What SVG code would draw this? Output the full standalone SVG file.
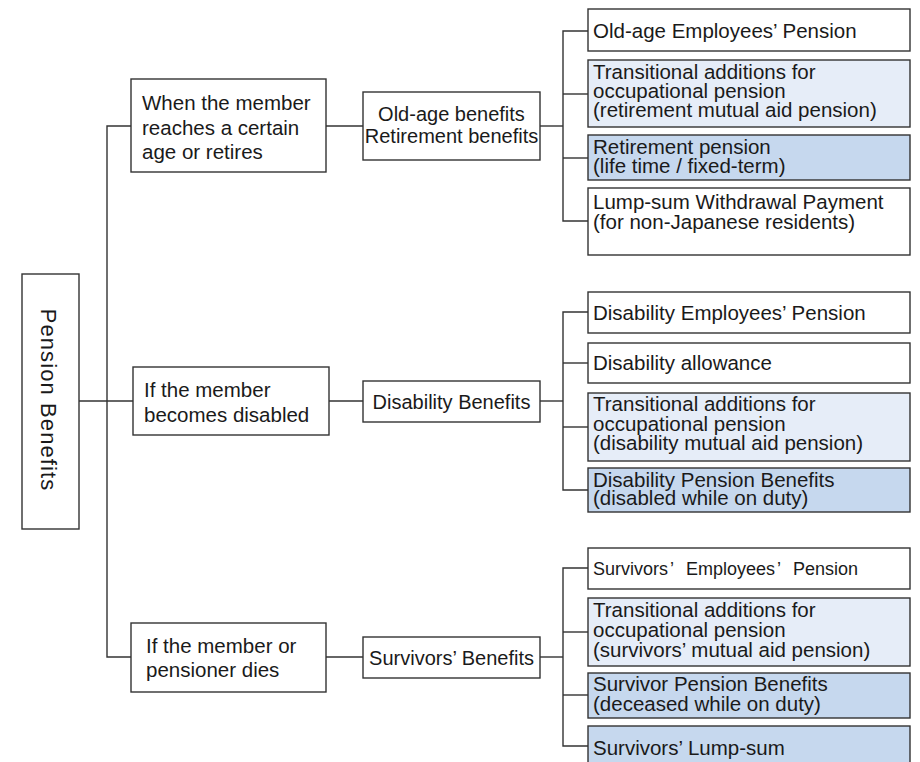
<svg xmlns="http://www.w3.org/2000/svg" width="920" height="762" viewBox="0 0 920 762">
  <style>
    .box { fill: #ffffff; stroke: #333333; stroke-width: 1.4; }
    .light { fill: #E6EDF8; }
    .dark { fill: #C6D8EE; }
    .t { font-family: "Liberation Sans", Arial, sans-serif; font-size: 20.5px; fill: #1a1a1a; }
    .m { font-family: "Liberation Sans", Arial, sans-serif; font-size: 20px; fill: #1a1a1a; text-anchor: middle; }
    .conn { fill: none; stroke: #333333; stroke-width: 1.4; }
  </style>
  <rect width="920" height="762" fill="#ffffff"/>

  <!-- connectors -->
  <g id="connectors" class="conn">
    <!-- root to cases -->
    <path d="M79 401 H133"/>
    <path d="M131 126 H107 V657 H131"/>
    <!-- old-age branch -->
    <path d="M326 126 H363"/>
    <path d="M540 126 H563"/>
    <path d="M588 31 H563 V221 H588"/>
    <path d="M563 94 H588"/>
    <path d="M563 158 H588"/>
    <!-- disability branch -->
    <path d="M329 401 H363"/>
    <path d="M540 401 H563"/>
    <path d="M588 312 H563 V490 H588"/>
    <path d="M563 363 H588"/>
    <path d="M563 427 H588"/>
    <!-- survivors branch -->
    <path d="M326 657 H363"/>
    <path d="M540 657 H563"/>
    <path d="M588 568 H563 V746 H588"/>
    <path d="M563 632 H588"/>
    <path d="M563 695 H588"/>
  </g>

  <!-- root -->
  <g id="pension-benefits">
    <rect class="box" x="22" y="274" width="57" height="255"/>
    <text class="t" style="font-size:22px; letter-spacing:1.1px" text-anchor="middle" transform="translate(41,400) rotate(90)">Pension Benefits</text>
  </g>

  <!-- cases -->
  <g id="case-retire">
    <rect class="box" x="131" y="79" width="195" height="93"/>
    <text class="t" x="142" y="110">When the member</text>
    <text class="t" x="142" y="134.5">reaches a certain</text>
    <text class="t" x="142" y="159">age or retires</text>
  </g>
  <g id="case-disabled">
    <rect class="box" x="133" y="367" width="196" height="68"/>
    <text class="t" x="144" y="397">If the member</text>
    <text class="t" x="144" y="422">becomes disabled</text>
  </g>
  <g id="case-dies">
    <rect class="box" x="131" y="623" width="195" height="69"/>
    <text class="t" x="146" y="653">If the member or</text>
    <text class="t" x="146" y="677">pensioner dies</text>
  </g>

  <!-- benefit categories -->
  <g id="old-age-benefits">
    <rect class="box" x="363" y="92" width="177" height="68"/>
    <text class="m" x="451.5" y="121">Old-age benefits</text>
    <text class="m" x="451.5" y="143">Retirement benefits</text>
  </g>
  <g id="disability-benefits">
    <rect class="box" x="363" y="381" width="177" height="41"/>
    <text class="m" x="451.5" y="408.5">Disability Benefits</text>
  </g>
  <g id="survivors-benefits">
    <rect class="box" x="363" y="637" width="177" height="41"/>
    <text class="m" x="451.5" y="665">Survivors’ Benefits</text>
  </g>

  <!-- old-age items -->
  <g id="old-age-employees-pension">
    <rect class="box" x="588" y="9" width="322" height="42"/>
    <text class="t" x="593" y="38">Old-age Employees’ Pension</text>
  </g>
  <g id="retirement-transitional">
    <rect class="box light" x="588" y="60" width="322" height="67"/>
    <text class="t" x="593" y="79">Transitional additions for</text>
    <text class="t" x="593" y="98">occupational pension</text>
    <text class="t" x="593" y="117">(retirement mutual aid pension)</text>
  </g>
  <g id="retirement-pension">
    <rect class="box dark" x="588" y="135" width="322" height="45"/>
    <text class="t" x="593" y="154">Retirement pension</text>
    <text class="t" x="593" y="173">(life time / fixed-term)</text>
  </g>
  <g id="lump-sum-withdrawal">
    <rect class="box" x="588" y="188" width="322" height="67"/>
    <text class="t" x="593" y="209">Lump-sum Withdrawal Payment</text>
    <text class="t" x="593" y="229">(for non-Japanese residents)</text>
  </g>

  <!-- disability items -->
  <g id="disability-employees-pension">
    <rect class="box" x="588" y="292" width="322" height="41"/>
    <text class="t" x="593" y="320">Disability Employees’ Pension</text>
  </g>
  <g id="disability-allowance">
    <rect class="box" x="588" y="343" width="322" height="40"/>
    <text class="t" x="593" y="370">Disability allowance</text>
  </g>
  <g id="disability-transitional">
    <rect class="box light" x="588" y="393" width="322" height="68"/>
    <text class="t" x="593" y="411">Transitional additions for</text>
    <text class="t" x="593" y="430.5">occupational pension</text>
    <text class="t" x="593" y="450">(disability mutual aid pension)</text>
  </g>
  <g id="disability-pension-benefits">
    <rect class="box dark" x="588" y="468" width="322" height="44"/>
    <text class="t" x="593" y="487">Disability Pension Benefits</text>
    <text class="t" x="593" y="505">(disabled while on duty)</text>
  </g>

  <!-- survivors items -->
  <g id="survivors-employees-pension">
    <rect class="box" x="588" y="548" width="322" height="41"/>
    <text class="t" style="font-size:18px" x="593" y="575">Survivors<tspan dx="2">’</tspan><tspan dx="12">Employees</tspan><tspan dx="2">’</tspan><tspan dx="12">Pension</tspan></text>
  </g>
  <g id="survivors-transitional">
    <rect class="box light" x="588" y="598" width="322" height="68"/>
    <text class="t" x="593" y="617">Transitional additions for</text>
    <text class="t" x="593" y="637">occupational pension</text>
    <text class="t" x="593" y="657">(survivors’ mutual aid pension)</text>
  </g>
  <g id="survivor-pension-benefits">
    <rect class="box dark" x="588" y="673" width="322" height="45"/>
    <text class="t" x="593" y="691">Survivor Pension Benefits</text>
    <text class="t" x="593" y="711">(deceased while on duty)</text>
  </g>
  <g id="survivors-lump-sum">
    <rect class="box dark" x="588" y="726" width="322" height="50"/>
    <text class="t" x="593" y="755">Survivors’ Lump-sum</text>
  </g>
</svg>
